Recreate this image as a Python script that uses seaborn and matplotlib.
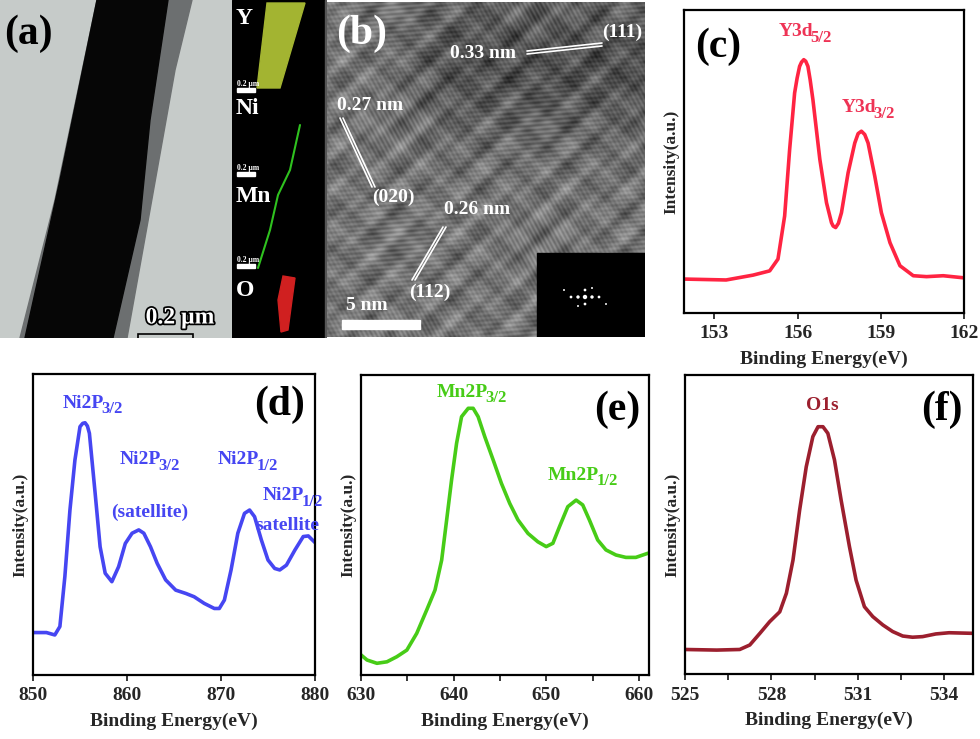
import numpy as np
import pandas as pd
import matplotlib
matplotlib.use('Agg')
import matplotlib.pyplot as plt
from matplotlib.patches import Polygon, Rectangle
from matplotlib.ticker import MultipleLocator
import matplotlib.patheffects as pe
import seaborn as sns

# spectra (intensity as fraction of panel height)
y3d_energy = [151.9, 153.42, 154.39, 154.99, 155.29, 155.53, 155.71, 155.89, 155.98, 156.07, 156.14,
              156.22, 156.29, 156.37, 156.45, 156.55, 156.80, 157.04, 157.22, 157.28, 157.37, 157.47,
              157.58, 157.82, 158.06, 158.18, 158.30, 158.42, 158.54, 158.78, 159.02, 159.33, 159.69,
              160.17, 160.65, 161.25, 162.0]
y3d_counts = [0.112, 0.109, 0.125, 0.139, 0.178, 0.320, 0.539, 0.726, 0.775, 0.814, 0.828,
              0.836, 0.831, 0.814, 0.770, 0.704, 0.507, 0.364, 0.298, 0.287, 0.282, 0.296,
              0.331, 0.463, 0.561, 0.592, 0.600, 0.589, 0.561, 0.452, 0.331, 0.232, 0.156,
              0.123, 0.120, 0.123, 0.116]

ni2p_energy = [850.0, 851.43, 852.32, 852.86, 853.39, 853.93, 854.46, 855.0, 855.29, 855.54, 855.79,
               856.0, 856.61, 857.14, 857.68, 858.39, 859.11, 859.82, 860.54, 861.25, 861.79, 862.5,
               863.21, 864.11, 865.18, 866.25, 867.14, 868.21, 869.29, 869.82, 870.36, 871.07,
               871.79, 872.5, 873.04, 873.57, 874.29, 875.0, 875.71, 876.25, 876.96, 877.86,
               878.75, 879.29, 880.0]
ni2p_counts = [0.141, 0.141, 0.133, 0.161, 0.327, 0.548, 0.714, 0.825, 0.836, 0.838, 0.827,
               0.803, 0.604, 0.426, 0.338, 0.310, 0.360, 0.437, 0.471, 0.482, 0.471, 0.426,
               0.371, 0.316, 0.282, 0.271, 0.260, 0.238, 0.221, 0.221, 0.249, 0.349,
               0.471, 0.537, 0.548, 0.526, 0.449, 0.382, 0.354, 0.349, 0.365, 0.415,
               0.460, 0.462, 0.440]

mn2p_energy = [630.0, 630.65, 631.72, 632.80, 633.87, 634.95, 636.02, 637.10, 637.99, 638.71,
               639.25, 639.78, 640.32, 640.86, 641.58, 642.11, 642.65, 643.37, 644.27, 645.16,
               646.06, 646.95, 648.03, 649.10, 650.0, 650.72, 651.43, 652.33, 653.23, 653.94,
               654.66, 655.56, 656.45, 657.53, 658.60, 659.68, 661.0]
mn2p_counts = [0.067, 0.050, 0.039, 0.044, 0.061, 0.083, 0.139, 0.217, 0.283, 0.383,
               0.517, 0.650, 0.772, 0.861, 0.889, 0.889, 0.861, 0.794, 0.717, 0.639,
               0.572, 0.517, 0.472, 0.444, 0.428, 0.439, 0.494, 0.561, 0.583, 0.567,
               0.517, 0.450, 0.417, 0.400, 0.392, 0.392, 0.406]

o1s_energy = [525.0, 526.10, 526.90, 527.25, 527.60, 527.94, 528.29, 528.52, 528.75, 528.98,
              529.21, 529.44, 529.62, 529.79, 529.96, 530.19, 530.42, 530.71, 530.94, 531.23,
              531.52, 531.87, 532.21, 532.56, 532.90, 533.25, 533.71, 534.17, 535.0]
o1s_counts = [0.082, 0.080, 0.082, 0.097, 0.136, 0.175, 0.208, 0.270, 0.381, 0.548,
              0.693, 0.794, 0.827, 0.827, 0.805, 0.716, 0.582, 0.426, 0.314, 0.225,
              0.192, 0.164, 0.142, 0.127, 0.123, 0.125, 0.134, 0.138, 0.136]

xticks_c = [153, 156, 159, 162]
xticks_d = [850, 860, 870, 880]
xticks_e = [630, 640, 650, 660]
xticks_f = [525, 528, 531, 534]

sns.set_style('ticks')
plt.rcParams['font.family'] = ['Liberation Serif', 'DejaVu Sans']
plt.rcParams['font.weight'] = 'bold'

W, H = 980, 739
fig = plt.figure(figsize=(W / 100, H / 100), dpi=100)
renderer = fig.canvas.get_renderer()


def px_axes(l, t, r, b):
    return fig.add_axes([l / W, 1 - b / H, (r - l) / W, (b - t) / H])


def spectrum(ax, x, y, color, xlim, ticks, minor=None):
    df = pd.DataFrame({'energy': x, 'intensity': y})
    sns.lineplot(data=df, x='energy', y='intensity', ax=ax, color=color, lw=2.6, sort=False,
                 solid_joinstyle='round', solid_capstyle='round')
    ax.set_xlim(*xlim)
    ax.set_ylim(0, 1)
    ax.set_xticks(ticks)
    if minor:
        ax.xaxis.set_minor_locator(MultipleLocator(minor))
    ax.set_yticks([])
    ax.tick_params(axis='x', direction='out', length=4, width=1.3, labelsize=14, pad=5)
    ax.tick_params(axis='x', which='minor', direction='out', length=4, width=1.3)
    for lab in ax.get_xticklabels():
        lab.set_fontweight('bold')
    for s in ax.spines.values():
        s.set_visible(True)
        s.set_linewidth(1.6)
        s.set_color('black')
    ax.set_xlabel('Binding Energy(eV)', fontsize=14, fontweight='bold', labelpad=6)
    ax.set_ylabel('Intensity(a.u.)', fontsize=12.5, fontweight='bold', labelpad=3)


def fig_text(x, y, s, **kw):
    return fig.text(x / W, 1 - y / H, s, ha='center', va='center', fontweight='bold', **kw)


def sub_label(x, y, main, sub, color):
    # main text starts at x (pixels), subscript follows, a bit lower
    t = fig.text(x / W, 1 - y / H, main, ha='left', va='center', color=color,
                 fontsize=14, fontweight='bold')
    bb = t.get_window_extent(renderer=renderer)
    fig.text((bb.x1 - 3) / W, 1 - (y + 6) / H, sub, ha='left', va='center', color=color,
             fontsize=12, fontweight='bold')


# ---------- (a) TEM image + element maps ----------
ax_a = px_axes(0, 0, 232, 338)
ax_a.set_xlim(0, 232)
ax_a.set_ylim(338, 0)
ax_a.axis('off')
ax_a.add_patch(Rectangle((0, 0), 232, 338, color='#c6cbc9'))
ax_a.add_patch(Polygon([[97, 0], [192, 0], [175, 70], [150, 210], [127, 338], [20, 338], [55, 200]],
                       color='#6c6f70'))
ax_a.add_patch(Polygon([[97, 0], [168, 0], [150, 120], [140, 220], [113, 338], [25, 338], [60, 180]],
                       color='#060606'))
ax_a.add_patch(Rectangle((138, 334), 55, 6, fill=False, ec='black', lw=1.2))
ax_a.text(180, 318, '0.2 µm', color='white', fontsize=17, fontweight='bold', ha='center', va='center',
          path_effects=[pe.withStroke(linewidth=2.5, foreground='black')])
ax_a.text(28, 34, '(a)', color='black', fontsize=30, fontweight='bold', ha='center', va='center')

ax_m = px_axes(232, 0, 327, 338)
ax_m.set_xlim(232, 327)
ax_m.set_ylim(338, 0)
ax_m.axis('off')
ax_m.add_patch(Rectangle((232, 0), 95, 338, color='black'))
ax_m.add_patch(Polygon([[267, 3], [305, 3], [280, 88], [257, 88]], color='#a3b431'))
ax_m.plot([300, 290, 278, 270, 258], [125, 170, 195, 230, 268], color='#2fc21f', lw=1.5)
ax_m.add_patch(Polygon([[283, 276], [295, 278], [292, 300], [288, 330], [281, 332], [278, 300]],
                       color='#d02020'))
for lab, yy in [('Y', 18), ('Ni', 108), ('Mn', 197), ('O', 290)]:
    ax_m.text(236, yy, lab, color='white', fontsize=17, fontweight='bold', ha='left', va='center')
for yy in [84, 168, 260]:
    ax_m.text(237, yy, '0.2 µm', color='white', fontsize=5.5, fontweight='bold', ha='left', va='center')
    ax_m.add_patch(Rectangle((237, yy + 4), 18, 4, color='white'))
ax_m.add_patch(Rectangle((325, 0), 2, 338, color='#555555'))

# ---------- (b) HRTEM image ----------
ax_b = px_axes(327, 2, 645, 337)
yy, xx = np.mgrid[0:335, 0:318].astype(float)
blend = 0.5 + 0.5 * np.sin(xx / 45.0) * np.cos(yy / 38.0)
fr1 = np.sin(2 * np.pi * (0.08 * xx + 0.99 * yy) / 4.5)
fr2 = np.sin(2 * np.pi * (0.88 * xx - 0.47 * yy) / 4.0)
img = 0.46 + 0.06 * (blend * fr1 + (1 - blend) * fr2)
img += 0.08 * np.sin(xx / 9.0) * np.sin(yy / 7.0) + 0.05 * np.cos(xx / 5.3 + yy / 6.1)
img += 0.05 * np.sin(xx / 3.1) * np.cos(yy / 2.7)
img -= 0.14 * np.exp(-((yy - 60) / 70.0) ** 2) * (0.5 + 0.5 * np.tanh((xx - 90) / 30.0))
ax_b.imshow(img, cmap='gray', vmin=0, vmax=1, extent=(327, 645, 337, 2), aspect='auto')
ax_b.set_xlim(327, 645)
ax_b.set_ylim(337, 2)
ax_b.axis('off')
ax_b.add_patch(Rectangle((537, 253), 108, 84, color='black'))
ax_b.scatter([578, 585, 592, 571, 599, 585, 585, 564, 606, 578, 592],
             [297, 297, 297, 297, 297, 290, 304, 290, 304, 306, 288],
             s=[6, 10, 6, 4, 4, 4, 4, 2, 2, 2, 2], color='white', lw=0)
for dx in (0, 3):
    ax_b.plot([527, 602], [51 + dx, 43 + dx], color='white', lw=1.2)
    ax_b.plot([340 + dx, 372 + dx], [118, 187], color='white', lw=1.2)
    ax_b.plot([443 + dx, 412 + dx], [227, 280], color='white', lw=1.2)
ax_b.add_patch(Rectangle((342, 320), 78, 9, color='white'))
bkw = dict(color='white', fontsize=14, fontweight='bold', ha='center', va='center')
ax_b.text(483, 53, '0.33 nm', **bkw)
ax_b.text(622, 32, '(111)', **bkw)
ax_b.text(370, 106, '0.27 nm', **bkw)
ax_b.text(393, 197, '(020)', **bkw)
ax_b.text(477, 210, '0.26 nm', **bkw)
ax_b.text(430, 292, '(112)', **bkw)
ax_b.text(367, 306, '5 nm', **bkw)
ax_b.text(362, 34, '(b)', color='white', fontsize=30, fontweight='bold', ha='center', va='center')

# ---------- (c)-(f) XPS spectra ----------
red, blue, green, wine = '#ff2442', '#4646f2', '#47cc17', '#9c1f2e'

ax_c = px_axes(684, 10, 964, 313)
spectrum(ax_c, y3d_energy, y3d_counts, red, (151.9, 162), xticks_c)
sub_label(779, 32, 'Y3d', '5/2', '#ee3355')
sub_label(842, 108, 'Y3d', '3/2', '#ee3355')
fig_text(718, 47, '(c)', color='black', fontsize=30)

ax_d = px_axes(33, 374, 315, 675)
spectrum(ax_d, ni2p_energy, ni2p_counts, blue, (850, 880), xticks_d)
sub_label(63, 403, 'Ni2P', '3/2', blue)
sub_label(120, 460, 'Ni2P', '3/2', blue)
fig_text(150, 512, '(satellite)', color=blue, fontsize=14)
sub_label(218, 460, 'Ni2P', '1/2', blue)
sub_label(263, 496, 'Ni2P', '1/2', blue)
fig_text(287, 525, 'satellite', color=blue, fontsize=14)
fig_text(280, 405, '(d)', color='black', fontsize=30)

ax_e = px_axes(361, 375, 649, 675)
spectrum(ax_e, mn2p_energy, mn2p_counts, green, (630, 661.1), xticks_e, minor=5)
sub_label(437, 392, 'Mn2P', '3/2', green)
sub_label(548, 475, 'Mn2P', '1/2', green)
fig_text(617, 410, '(e)', color='black', fontsize=30)

ax_f = px_axes(685, 375, 973, 674)
spectrum(ax_f, o1s_energy, o1s_counts, wine, (525, 535), xticks_f, minor=1.5)
fig_text(822, 405, 'O1s', color=wine, fontsize=14)
fig_text(942, 410, '(f)', color='black', fontsize=30)

fig.savefig('out.png', dpi=100, facecolor='white')
